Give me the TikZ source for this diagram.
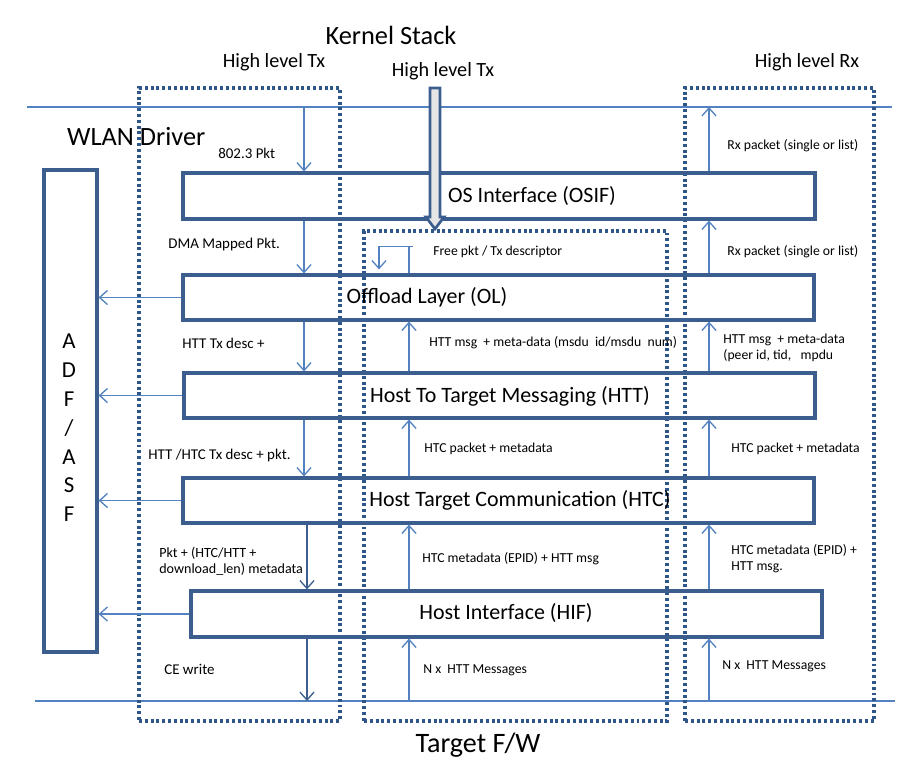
\documentclass[tikz,border=0pt]{standalone}
\usepackage{fontspec}
\setmainfont{Carlito}
\usetikzlibrary{arrows.meta,fit,positioning}
\definecolor{boxblue}{HTML}{3B5E8E}
\definecolor{lineblue}{HTML}{5282C0}
\definecolor{dotblue}{HTML}{2F5689}
\definecolor{shaftgray}{HTML}{E6E6E6}

\tikzset{
	layer/.style={draw=boxblue, line width=1.8pt, inner sep=0pt},
	zone/.style={draw=dotblue, line width=1.8pt, dash pattern=on 1.7pt off 1.6pt, inner sep=0pt},
	flow/.style={draw=lineblue, line width=0.75pt, -{Straight Barb[length=4.5pt,width=8pt]}},
	rail/.style={draw=lineblue, line width=0.8pt},
	layertxt/.style={font=\fontsize{12.5}{14}\selectfont},
	bigtxt/.style={font=\fontsize{15}{17}\selectfont},
	headtxt/.style={font=\fontsize{11.5}{13}\selectfont},
	ltag/.style={font=\fontsize{8.5}{10}\selectfont, anchor=west, inner sep=0pt},
	rtag/.style={font=\fontsize{7.8}{9}\selectfont, anchor=west, inner sep=0pt, align=left},
}

\begin{document}
\begin{tikzpicture}[x=0.02cm, y=-0.02cm]
				\useasboundingbox (0,0) rectangle (924,772);
				
				\coordinate (topl) at (27,107);
				\coordinate (topr) at (892,107);
				\coordinate (botl) at (35,701);
				\coordinate (botr) at (895,701);
				\coordinate (txa) at (304,0);
				\coordinate (txb) at (307,0);
				\coordinate (mid) at (409,0);
				\coordinate (rx) at (709,0);
				
				\draw[rail] (topl) -- (topr);
				\draw[rail] (botl) -- (botr);
				
				\node[bigtxt] (kernel) at (391,35) {Kernel Stack};
				\node[headtxt] (hltx) at (274,62) {High level Tx};
				\node[headtxt] (hltxmid) at (443,71) {High level Tx};
				\node[headtxt] (hlrx) at (807,62) {High level Rx};
				\node[bigtxt, anchor=west] (wlan) at (61,137) {WLAN Driver};
				\node[font=\fontsize{16}{18}\selectfont] (target) at (478,745) {Target F/W};
				
				\node[zone, fit={(139,88) (340,721)}] (txzone) {};
				\node[zone, fit={(364,231) (667,721)}] (midzone) {};
				\node[zone, fit={(685,88) (874,721)}] (rxzone) {};
				
				\node[layer, fit={(183,173) (815,219)}] (osif) {};
				\node[layer, fit={(183,275) (814,320)}] (ol) {};
				\node[layer, fit={(184,373) (815,418)}] (htt) {};
				\node[layer, fit={(183,478) (814,523)}] (htc) {};
				\node[layer, fit={(191,591) (822,637)}] (hif) {};
				\node[layer, fit={(44,170) (97,652)}] (adf) {};
				
				\node[layertxt] (osiflbl) at (532,196) {OS Interface (OSIF)};
				\node[layertxt] (ollbl) at (427,297) {Offload Layer (OL)};
				\node[layertxt] (httlbl) at (510,396) {Host To Target Messaging (HTT)};
				\node[layertxt] (htclbl) at (520,500) {Host Target Communication (HTC)};
				\node[layertxt] (hiflbl) at (506,613) {Host Interface (HIF)};
				\node[font=\fontsize{13}{16.4}\selectfont, align=center] (adflbl) at (69,428) {A\\D\\F\\/\\A\\S\\F};
				
				\draw[flow] (ol.west) -- (ol.west -| adf.east);
				\draw[flow] (htt.west) -- (htt.west -| adf.east);
				\draw[flow] (htc.west) -- (htc.west -| adf.east);
				\draw[flow] (hif.west) -- (hif.west -| adf.east);
				
				\draw[flow] (topl -| txa) -- (osif.north -| txa);
				\draw[flow] (osif.south -| txa) -- (ol.north -| txa);
				\draw[flow] (ol.south -| txa) -- (htt.north -| txa);
				\draw[flow] (htt.south -| txa) -- (htc.north -| txa);
				\draw[flow, draw=boxblue] (htc.south -| txb) -- (hif.north -| txb);
				\draw[flow, draw=boxblue] (hif.south -| txb) -- (botl -| txb);
				
				\draw[flow] (ol.north -| mid) -- ++(0,-27) -- ++(-30,0) -- ++(0,23);
				\draw[rail, line width=0.75pt] (ol.north -| mid) ++(0,-27) -- ++(4,0);
				\draw[flow] (htt.north -| mid) -- (ol.south -| mid);
				\draw[flow] (htc.north -| mid) -- (htt.south -| mid);
				\draw[flow] (hif.north -| mid) -- (htc.south -| mid);
				\draw[flow] (botl -| mid) -- (hif.south -| mid);
				
				\draw[flow] (osif.north -| rx) -- (topl -| rx);
				\draw[flow] (ol.north -| rx) -- (osif.south -| rx);
				\draw[flow] (htt.north -| rx) -- (ol.south -| rx);
				\draw[flow] (htc.north -| rx) -- (htt.south -| rx);
				\draw[flow] (hif.north -| rx) -- (htc.south -| rx);
				\draw[flow] (botl -| rx) -- (hif.south -| rx);
				
				\draw[draw=boxblue, line width=1.5pt, fill=shaftgray, line join=miter]
					(430,88) -- (440,88) -- (440,217) -- (444,217) -- (435,229) -- (426,217) -- (430,217) -- cycle;
				
				\node[ltag] (pkt) at (218,153) {802.3 Pkt};
				\node[ltag] (dma) at (168,245) {DMA Mapped Pkt.};
				\node[ltag] (httdesc) at (182,343) {HTT Tx desc +};
				\node[ltag] (htcdesc) at (148,456) {HTT /HTC Tx desc + pkt.};
				\node[rtag, font=\fontsize{8}{9.2}\selectfont] (dlmeta) at (159,561) {Pkt + (HTC/HTT +\\download\_len) metadata};
				\node[ltag] (cewrite) at (164,669) {CE write};
				
				\node[rtag] (freepkt) at (433,252) {Free pkt / Tx descriptor};
				\node[rtag] (httmsg) at (429,343) {HTT msg~ + meta-data (msdu~ id/msdu~ num)};
				\node[rtag] (htcpkt) at (424,449) {HTC packet + metadata};
				\node[rtag] (htcmeta) at (422,559) {HTC metadata (EPID) + HTT msg};
				\node[rtag] (nmsg) at (423,670) {N x~ HTT Messages};
				
				\node[rtag] (rxpkta) at (727,146) {Rx packet (single or list)};
				\node[rtag] (rxpktb) at (727,252) {Rx packet (single or list)};
				\node[rtag] (rxhtt) at (723,348) {HTT msg~ + meta-data\\(peer id, tid,~~ mpdu};
				\node[rtag] (rxhtc) at (731,449) {HTC packet + metadata};
				\node[rtag] (rxmeta) at (731,559) {HTC metadata (EPID) +\\HTT msg.};
				\node[rtag] (rxn) at (722,666) {N x~ HTT Messages};
			\end{tikzpicture}
\end{document}
